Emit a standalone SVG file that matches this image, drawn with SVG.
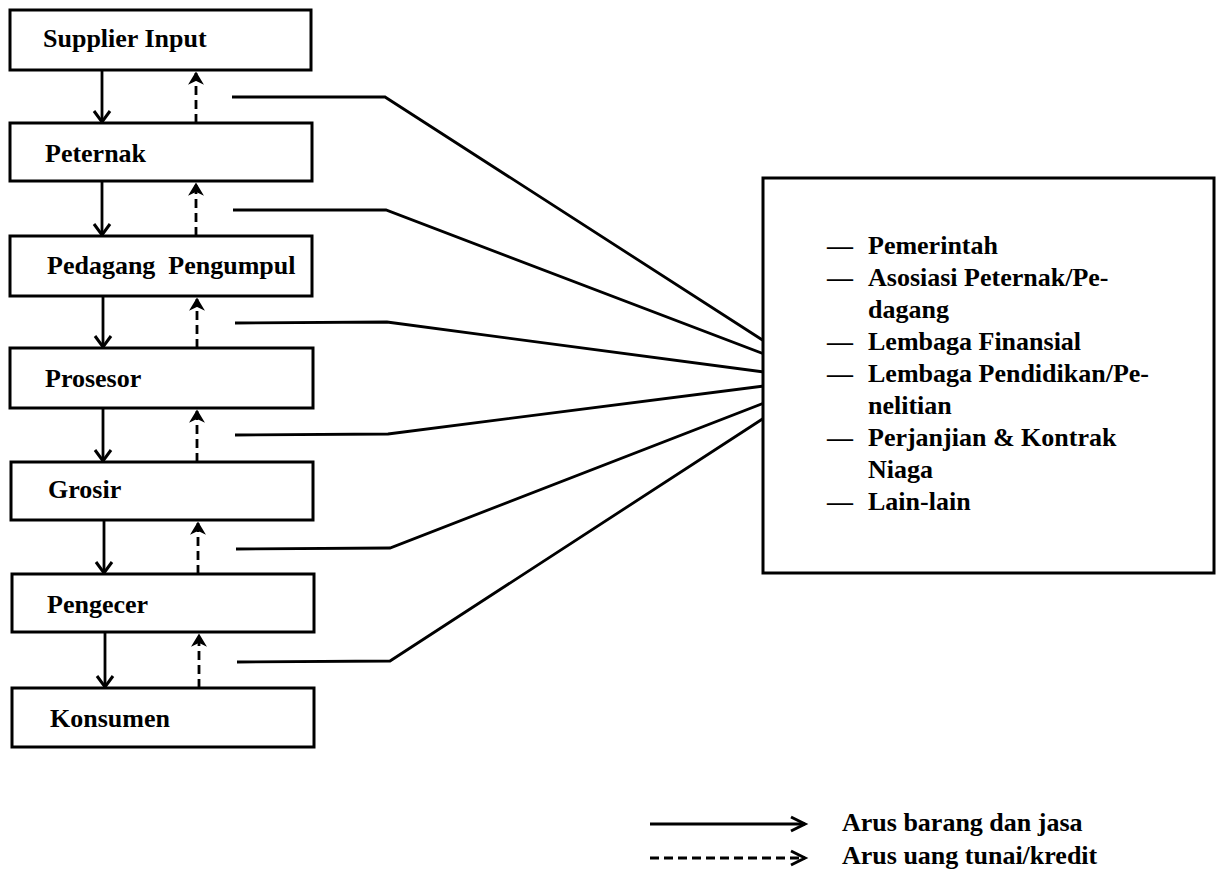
<svg xmlns="http://www.w3.org/2000/svg" width="1221" height="872" viewBox="0 0 1221 872">
<defs>
<style>
.box{fill:#fff;stroke:#000;stroke-width:3}
.lbl{font-family:"Liberation Serif","Times New Roman",serif;font-weight:bold;font-size:26px;fill:#000}
.flow{fill:none;stroke:#000;stroke-width:2.8}
.cash{fill:none;stroke:#000;stroke-width:2.8;stroke-dasharray:9 5}
.link{fill:none;stroke:#000;stroke-width:2.8;stroke-linejoin:miter}
</style>
<marker id="vhead" markerUnits="userSpaceOnUse" markerWidth="24" markerHeight="24" viewBox="-12 -12 24 24" refX="0" refY="0" orient="auto" overflow="visible">
<path d="M -11 -8 L 0 0 L -11 8" fill="none" stroke="#000" stroke-width="3"/>
</marker>
<marker id="lhead" markerUnits="userSpaceOnUse" markerWidth="24" markerHeight="24" viewBox="-12 -12 24 24" refX="0" refY="0" orient="auto" overflow="visible">
<path d="M -14 -7 L 0 0 L -14 7" fill="none" stroke="#000" stroke-width="3"/>
</marker>
<marker id="up" markerUnits="userSpaceOnUse" markerWidth="24" markerHeight="24" viewBox="-12 -12 24 24" refX="0" refY="0" orient="auto" overflow="visible">
<path d="M -10 -6 L 0 0 L -10 6 L -7 0 Z" fill="#000" stroke="#000" stroke-width="1.5" stroke-linejoin="miter"/>
</marker>
</defs>
<rect width="1221" height="872" fill="#fff"/>

<g id="connectors">
<line class="flow" x1="102" y1="70" x2="102" y2="122" marker-end="url(#vhead)"/>
<line class="flow" x1="102" y1="181" x2="102" y2="235" marker-end="url(#vhead)"/>
<line class="flow" x1="103" y1="296" x2="103" y2="347" marker-end="url(#vhead)"/>
<line class="flow" x1="103" y1="408" x2="103" y2="461" marker-end="url(#vhead)"/>
<line class="flow" x1="104" y1="520" x2="104" y2="573" marker-end="url(#vhead)"/>
<line class="flow" x1="105" y1="632" x2="105" y2="687" marker-end="url(#vhead)"/>

<line class="cash" x1="196" y1="123" x2="196" y2="73" marker-end="url(#up)"/>
<line class="cash" x1="196" y1="236" x2="196" y2="184" marker-end="url(#up)"/>
<line class="cash" x1="197" y1="348" x2="197" y2="299" marker-end="url(#up)"/>
<line class="cash" x1="197" y1="462" x2="197" y2="411" marker-end="url(#up)"/>
<line class="cash" x1="198" y1="574" x2="198" y2="523" marker-end="url(#up)"/>
<line class="cash" x1="199" y1="688" x2="199" y2="635" marker-end="url(#up)"/>

<polyline class="link" points="232,97 385,97 764,341"/>
<polyline class="link" points="233,210 386,210 764,354"/>
<polyline class="link" points="235,323 387,322 764,372"/>
<polyline class="link" points="235,435 388,434 764,386"/>
<polyline class="link" points="236,549 390,548 764,403"/>
<polyline class="link" points="237,662 390,661 764,418"/>
</g>

<g id="supplier-input"><rect class="box" x="10" y="10" width="301" height="60"/><text class="lbl" x="43" y="47">Supplier Input</text></g>
<g id="peternak"><rect class="box" x="10" y="123" width="302" height="58"/><text class="lbl" x="45" y="162">Peternak</text></g>
<g id="pedagang-pengumpul"><rect class="box" x="10" y="236" width="302" height="60"/><text class="lbl" x="47" y="274" xml:space="preserve">Pedagang  Pengumpul</text></g>
<g id="prosesor"><rect class="box" x="10" y="348" width="303" height="60"/><text class="lbl" x="45" y="387">Prosesor</text></g>
<g id="grosir"><rect class="box" x="11" y="462" width="302" height="58"/><text class="lbl" x="48" y="498">Grosir</text></g>
<g id="pengecer"><rect class="box" x="12" y="574" width="302" height="58"/><text class="lbl" x="47" y="613">Pengecer</text></g>
<g id="konsumen"><rect class="box" x="12" y="688" width="302" height="59"/><text class="lbl" x="50" y="727">Konsumen</text></g>

<g id="lembaga">
<rect class="box" x="763" y="178" width="451" height="395"/>
<text class="lbl" x="827" y="254">—</text><text class="lbl" x="868" y="254">Pemerintah</text>
<text class="lbl" x="827" y="286">—</text><text class="lbl" x="868" y="286">Asosiasi Peternak/Pe-</text>
<text class="lbl" x="868" y="318">dagang</text>
<text class="lbl" x="827" y="350">—</text><text class="lbl" x="868" y="350">Lembaga Finansial</text>
<text class="lbl" x="827" y="382">—</text><text class="lbl" x="868" y="382">Lembaga Pendidikan/Pe-</text>
<text class="lbl" x="868" y="414">nelitian</text>
<text class="lbl" x="827" y="446">—</text><text class="lbl" x="868" y="446">Perjanjian &amp; Kontrak</text>
<text class="lbl" x="868" y="478">Niaga</text>
<text class="lbl" x="827" y="510">—</text><text class="lbl" x="868" y="510">Lain-lain</text>
</g>

<g id="legend">
<line class="flow" x1="650" y1="824" x2="805" y2="824" marker-end="url(#lhead)"/>
<line class="cash" x1="650" y1="858" x2="805" y2="858" stroke-dasharray="10 6" marker-end="url(#lhead)"/>
<text class="lbl" x="842" y="831">Arus barang dan jasa</text>
<text class="lbl" x="842" y="864">Arus uang tunai/kredit</text>
</g>
</svg>
